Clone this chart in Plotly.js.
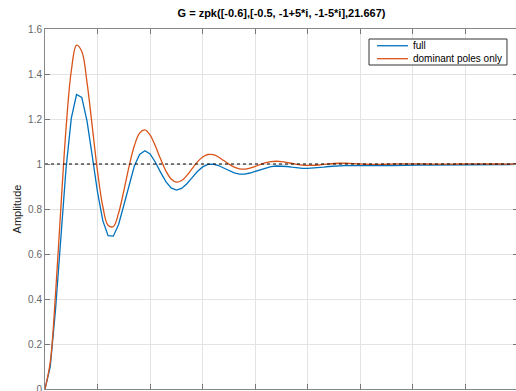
<!DOCTYPE html>
<html>
<head>
<meta charset="utf-8">
<script src="https://cdn.plot.ly/plotly-3.0.1.min.js"></script>
<style>
  html, body { margin: 0; padding: 0; overflow: hidden; background: #fff; }
  #chart { width: 518px; height: 391px; }
</style>
</head>
<body>
<div id="chart"></div>
<script>
// Time axis (seconds)
const time = [0,0.1,0.2,0.3,0.4,0.5,0.6,0.7,0.8,0.9,1.0,1.1,1.2,1.3,1.4,1.5,1.6,1.7,1.8,1.9,
  2.0,2.1,2.2,2.3,2.4,2.5,2.6,2.7,2.8,2.9,3.0,3.1,3.2,3.3,3.4,3.5,3.6,3.7,3.8,3.9,
  4.0,4.1,4.2,4.3,4.4,4.5,4.6,4.7,4.8,4.9,5.0,5.1,5.2,5.3,5.4,5.5,5.6,5.7,5.8,5.9,
  6.0,6.1,6.2,6.3,6.4,6.5,6.6,6.7,6.8,6.9,7.0,7.1,7.2,7.3,7.4,7.5,7.6,7.7,7.8,7.9,
  8.0,8.1,8.2,8.3,8.4,8.5,8.6,8.7,8.8,8.9,9.0];

// Step response, full model
const fullResp = [0,0.0997,0.3524,0.6738,0.9792,1.2025,1.3088,1.2962,1.1904,1.0342,
  0.8740,0.7485,0.6816,0.6792,0.7312,0.8166,0.9107,0.9911,1.0426,1.0592,
  1.0444,1.0079,0.9627,0.9216,0.8938,0.8840,0.8917,0.9125,0.9398,0.9665,
  0.9871,0.9984,0.9998,0.9933,0.9821,0.9701,0.9604,0.9553,0.9554,0.9600,
  0.9675,0.9760,0.9835,0.9888,0.9912,0.9909,0.9888,0.9858,0.9829,0.9810,
  0.9805,0.9815,0.9835,0.9861,0.9888,0.9909,0.9923,0.9929,0.9928,0.9923,
  0.9916,0.9911,0.9909,0.9911,0.9917,0.9925,0.9934,0.9943,0.9950,0.9954,
  0.9956,0.9956,0.9955,0.9955,0.9954,0.9955,0.9957,0.9960,0.9964,0.9967,
  0.9970,0.9972,0.9974,0.9975,0.9975,0.9976,0.9976,0.9977,0.9978,0.9979,0.9980];

// Step response, dominant poles only
const domResp = [0,0.1192,0.4199,0.7998,1.1570,1.4133,1.5278,1.4999,1.3617,1.1652,
  0.9662,0.8111,0.7276,0.7221,0.7817,0.8808,0.9894,1.0808,1.1370,1.1514,
  1.1283,1.0798,1.0217,0.9691,0.9332,0.9192,0.9264,0.9492,0.9796,1.0092,
  1.0313,1.0422,1.0414,1.0312,1.0156,0.9993,0.9861,0.9785,0.9772,0.9814,
  0.9892,0.9980,1.0057,1.0107,1.0123,1.0108,1.0071,1.0024,0.9980,0.9949,
  0.9935,0.9939,0.9956,0.9980,1.0005,1.0023,1.0034,1.0034,1.0027,1.0014,
  1.0001,0.9990,0.9983,0.9981,0.9984,0.9990,0.9997,1.0004,1.0008,1.0010,
  1.0009,1.0006,1.0002,0.9999,0.9996,0.9995,0.9995,0.9996,0.9998,1.0000,
  1.0002,1.0003,1.0003,1.0002,1.0001,1.0000,0.9999,0.9999,0.9998,0.9999,0.9999];

// Steady-state reference line
const refTime = [0, 9];
const refValue = [1, 1];

const seriesNames = ["full", "dominant poles only"];
const seriesColors = ['#0072BD', '#D95319'];
const yTickVals = [0, 0.2, 0.4, 0.6, 0.8, 1, 1.2, 1.4, 1.6];
const yTickText = ["0", "0.2", "0.4", "0.6", "0.8", "1", "1.2", "1.4", "1.6"];
const xTickVals = [0,1,2,3,4,5,6,7,8,9];

const FONT = '"Liberation Sans", Arial, Helvetica, sans-serif';

const traces = [
  { x: time, y: fullResp, type: 'scatter', mode: 'lines', name: seriesNames[0],
    showlegend: false, line: { color: seriesColors[0], width: 1.3 } },
  { x: time, y: domResp, type: 'scatter', mode: 'lines', name: seriesNames[1],
    showlegend: false, line: { color: seriesColors[1], width: 1.3, shape: 'spline', smoothing: 1 } },
  { x: refTime, y: refValue, type: 'scatter', mode: 'lines', showlegend: false,
    hoverinfo: 'skip', line: { color: '#000000', width: 1.2, dash: 'dot' } }
];

// MATLAB-style compact legend box (paper coordinates)
const legBox = { x0: 0.685, x1: 0.9767, y0: 0.900, y1: 0.9722 };
const legRows = [0.9535, 0.9175];
const legLineX = [0.7019, 0.7674];
const legTextX = 0.7745;

const shapes = [
  { type: 'rect', xref: 'paper', yref: 'paper', x0: legBox.x0, x1: legBox.x1, y0: legBox.y0, y1: legBox.y1,
    line: { color: '#333', width: 1 }, fillcolor: '#ffffff', layer: 'above' }
];
const annotations = [];
seriesNames.forEach((name, i) => {
  shapes.push({ type: 'line', xref: 'paper', yref: 'paper', x0: legLineX[0], x1: legLineX[1],
    y0: legRows[i], y1: legRows[i], line: { color: seriesColors[i], width: 1.3 }, layer: 'above' });
  annotations.push({ xref: 'paper', yref: 'paper', x: legTextX, y: legRows[i], xanchor: 'left', yanchor: 'middle',
    text: name, showarrow: false, font: { family: FONT, size: 10, color: '#000' } });
});

const layout = {
  width: 518, height: 391,
  margin: { l: 45, r: 0, t: 29, b: 2, pad: 0 },
  paper_bgcolor: '#ffffff', plot_bgcolor: '#ffffff',
  font: { family: FONT, size: 10, color: '#555' },
  showlegend: false,
  title: {
    text: 'G = zpk([-0.6],[-0.5, -1+5*i, -1-5*i],21.667)',
    font: { family: FONT, size: 11, color: '#000', weight: 'bold' },
    x: 0.5, xref: 'paper', xanchor: 'center',
    y: 0.967, yref: 'container', yanchor: 'middle'
  },
  xaxis: {
    range: [0, 9], tickvals: xTickVals, showticklabels: false,
    ticks: 'inside', ticklen: 5, tickcolor: '#777', tickwidth: 1,
    showline: true, linecolor: '#888', linewidth: 1, mirror: 'ticks',
    showgrid: true, gridcolor: '#e3e3e3', gridwidth: 1,
    zeroline: false, fixedrange: true
  },
  yaxis: {
    range: [0, 1.6], tickvals: yTickVals, ticktext: yTickText,
    ticks: 'inside', ticklen: 5, tickcolor: '#777', tickwidth: 1,
    showline: true, linecolor: '#888', linewidth: 1, mirror: 'ticks',
    showgrid: true, gridcolor: '#e3e3e3', gridwidth: 1,
    zeroline: false, fixedrange: true, ticklabeloverflow: 'allow',
    tickfont: { family: FONT, size: 10, color: '#666' },
    title: { text: 'Amplitude', font: { family: FONT, size: 11, color: '#222' }, standoff: 4 }
  },
  shapes: shapes,
  annotations: annotations
};

Plotly.newPlot('chart', traces, layout, { displayModeBar: false, staticPlot: true });
</script>
</body>
</html>
